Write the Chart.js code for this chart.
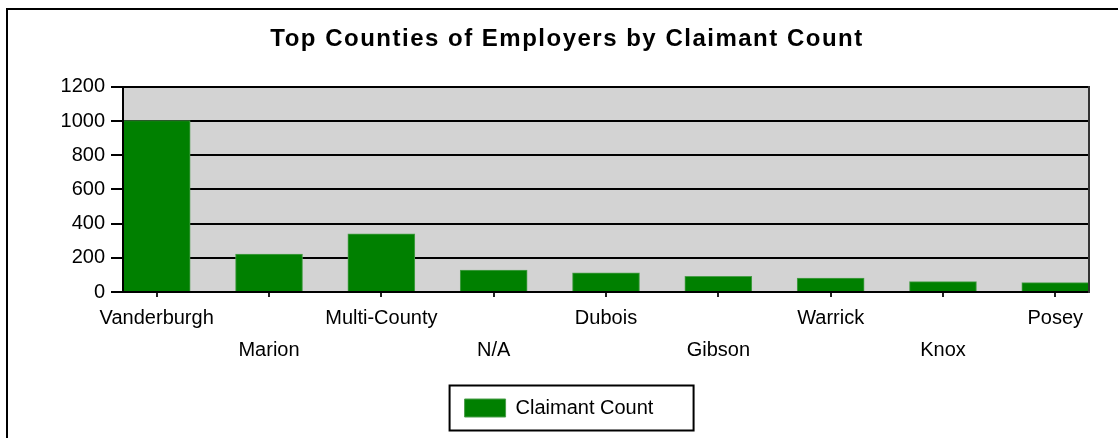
<!DOCTYPE html>
<html>
<head>
<meta charset="utf-8">
<script src="https://cdn.jsdelivr.net/npm/chart.js@4/dist/chart.umd.min.js"></script>
<style>
  html, body { margin: 0; padding: 0; background: #fff; overflow: hidden; width: 1118px; height: 438px; }
  #wrap { position: relative; width: 1118px; height: 438px; overflow: hidden; }
  #c { position: absolute; left: 0; top: 0; }
  #frame { position: absolute; left: 6px; top: 8px; width: 1200px; height: 600px;
           border-left: 2px solid #000; border-top: 2px solid #000; pointer-events: none; }
</style>
</head>
<body>
<div id="wrap">
  <canvas id="c" width="1118" height="438"></canvas>
  <div id="frame"></div>
</div>
<script>
// ---- data ----
const chartTitle = 'Top Counties of Employers by Claimant Count';
const seriesName = 'Claimant Count';
const categories = ['Vanderburgh', 'Marion', 'Multi-County', 'N/A', 'Dubois', 'Gibson', 'Warrick', 'Knox', 'Posey'];
const claimantCounts = [1003, 222, 340, 128, 112, 92, 82, 61, 55];
const yTickMin = 0;
const yTickMax = 1200;
const yTickStep = 200;

// ---- styling ----
const FONT = "'Liberation Sans', Arial, Helvetica, sans-serif";
Chart.defaults.font.family = FONT;
Chart.defaults.color = '#000';

const plotBackground = {
  id: 'plotBackground',
  beforeDraw(chart) {
    const { ctx, chartArea: a } = chart;
    ctx.save();
    ctx.fillStyle = '#d3d3d3';
    ctx.fillRect(a.left, a.top, a.right - a.left, a.bottom - a.top);
    ctx.restore();
  }
};

const titleTweak = {
  id: 'titleTweak',
  afterLayout(chart) {
    const tb = chart.titleBlock;
    if (!tb) return;
    tb.left += 16; // title is centred on the outer frame
    if (!tb.__wrapped) {
      const orig = tb.draw.bind(tb);
      tb.draw = function (area) {
        const c = this.ctx;
        c.save();
        c.letterSpacing = '1.5px';
        orig(area);
        c.restore();
      };
      tb.__wrapped = true;
    }
  }
};

const legendFrame = {
  id: 'legendFrame',
  afterDraw(chart) {
    const lg = chart.legend;
    if (!lg || !lg.legendHitBoxes || !lg.legendHitBoxes.length) return;
    const hb = lg.legendHitBoxes[0];
    const cy = hb.top + hb.height / 2;
    const ctx = chart.ctx;
    ctx.save();
    ctx.strokeStyle = '#000';
    ctx.lineWidth = 2;
    ctx.strokeRect(hb.left - 15, cy - 22.5, 244, 45);
    ctx.restore();
  }
};

new Chart(document.getElementById('c'), {
  type: 'bar',
  data: {
    datasets: [{
      label: seriesName,
      data: claimantCounts.map((v, i) => ({ x: i, y: v })),
      backgroundColor: '#008000',
      borderColor: '#4a9e4a',
      borderWidth: 1,
      barThickness: 67
    }]
  },
  options: {
    responsive: false,
    animation: false,
    events: [],
    layout: { padding: { left: 0, right: 0, top: 0, bottom: 10 } },
    scales: {
      x: {
        type: 'linear',
        min: -0.3,
        max: 8.3,
        offset: false,
        afterBuildTicks(s) { s.ticks = categories.map((_, i) => ({ value: i })); },
        ticks: {
          autoSkip: false,
          maxRotation: 0,
          minRotation: 0,
          padding: 5,
          color: '#000',
          font: { size: 20, lineHeight: 1.6 },
          callback(v) {
            const i = Math.round(v);
            return i % 2 === 0 ? [categories[i], ''] : ['', categories[i]];
          }
        },
        grid: { display: true, offset: false, drawOnChartArea: false, drawTicks: true, tickLength: 5, color: '#222', lineWidth: 2 },
        border: { display: true, color: '#000', width: 2, z: 1 }
      },
      y: {
        min: yTickMin,
        max: yTickMax,
        ticks: { stepSize: yTickStep, padding: 6, color: '#000', font: { size: 20 }, callback: v => String(v) },
        grid: { color: '#000', lineWidth: 2, tickLength: 12 },
        border: { display: true, color: '#000', width: 2, z: 1 },
        afterFit(s) { s.width = 123; }
      },
      yRight: {
        position: 'right',
        display: true,
        grid: { display: false },
        ticks: { display: false },
        border: { display: true, color: '#333', width: 2, z: 1 },
        afterFit(s) { s.width = 29; }
      }
    },
    plugins: {
      title: {
        display: true,
        text: chartTitle,
        color: '#000',
        font: { size: 24, weight: 'bold', lineHeight: 1.2 },
        padding: { top: 25, bottom: 33 }
      },
      legend: {
        position: 'bottom',
        labels: { boxWidth: 41, boxHeight: 18, padding: 27, color: '#000', font: { size: 20 } }
      },
      tooltip: { enabled: false }
    }
  },
  plugins: [plotBackground, titleTweak, legendFrame]
});
</script>
</body>
</html>
